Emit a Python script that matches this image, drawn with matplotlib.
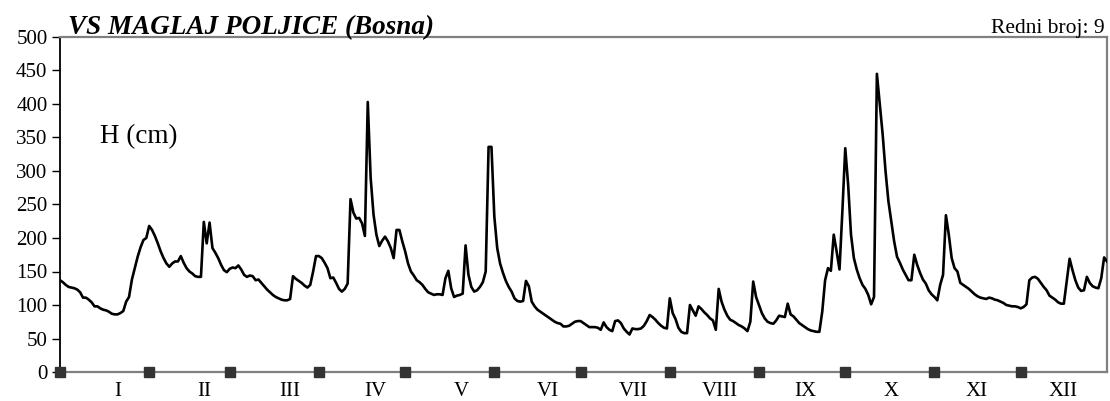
import numpy as np
import matplotlib
matplotlib.use("Agg")
import matplotlib.pyplot as plt
from matplotlib.transforms import blended_transform_factory

plt.rcParams['font.family'] = ['Liberation Serif', 'DejaVu Serif']

# ---- data: daily water level H (cm), one list per month ----
jan = [137, 134, 130, 127, 126, 125, 123, 119, 111, 111, 108, 104, 98, 98, 95, 93,
       92, 90, 87, 86, 86, 88, 91, 105, 112, 138, 155, 172, 186, 197, 200]
feb = [218, 212, 203, 192, 180, 170, 162, 157, 162, 165, 165, 173, 163, 155, 150,
       147, 143, 142, 142, 224, 192, 223, 185, 178, 170, 160, 152, 149]
mar = [154, 156, 155, 159, 153, 145, 142, 144, 143, 137, 138, 133, 128, 123, 119,
       115, 112, 110, 108, 107, 107, 109, 143, 139, 136, 133, 129, 126, 130, 150, 173]
apr = [173, 170, 163, 155, 140, 141, 133, 124, 120, 124, 132, 258, 238, 229, 230,
       222, 203, 403, 290, 235, 205, 188, 196, 202, 195, 185, 170, 212, 212, 195]
may = [180, 162, 150, 144, 137, 134, 130, 124, 119, 117, 115, 116, 116, 115, 140,
       151, 125, 112, 114, 115, 117, 189, 145, 127, 120, 122, 127, 134, 150, 336, 336]
jun = [232, 185, 162, 148, 136, 127, 120, 110, 106, 105, 106, 136, 128, 105, 98,
       93, 90, 87, 84, 81, 78, 75, 73, 72, 68, 68, 69, 72, 75, 76]
jul = [76, 73, 70, 67, 67, 67, 66, 63, 74, 67, 63, 61, 76, 77, 73, 65, 60, 56, 65,
       64, 64, 65, 69, 76, 85, 82, 78, 73, 69, 66, 65]
aug = [110, 88, 79, 66, 60, 58, 58, 100, 92, 84, 98, 94, 89, 85, 80, 77, 63, 124,
       105, 93, 84, 78, 76, 73, 70, 68, 65, 61, 75, 135, 112]
sep = [100, 88, 80, 75, 73, 72, 77, 84, 83, 82, 102, 86, 83, 78, 73, 70, 67, 64,
       62, 61, 60, 60, 90, 137, 155, 151, 205, 180, 153, 240]
oct_ = [334, 280, 205, 170, 153, 140, 130, 124, 115, 101, 112, 445, 400, 355, 300,
        255, 225, 195, 172, 163, 153, 145, 137, 137, 175, 160, 148, 138, 132, 122, 116]
nov = [112, 107, 130, 145, 234, 205, 170, 155, 150, 133, 130, 127, 124, 120, 116,
       113, 111, 110, 109, 111, 110, 108, 107, 105, 103, 100, 99, 98, 98, 97]
dec = [95, 97, 101, 137, 141, 142, 139, 133, 127, 122, 114, 111, 108, 104, 102, 102,
       135, 169, 152, 137, 126, 121, 122, 142, 133, 128, 126, 125, 140, 171, 165]

months = ["I", "II", "III", "IV", "V", "VI", "VII", "VIII", "IX", "X", "XI", "XII"]
title = "VS MAGLAJ POLJICE (Bosna)"
station_no = "Redni broj: 9"
ylabel = "H (cm)"

month_data = [jan, feb, mar, apr, may, jun, jul, aug, sep, oct_, nov, dec]
values = np.concatenate(month_data)
days = np.arange(len(values))
month_starts = np.cumsum([0] + [len(m) for m in month_data[:-1]])

# ---- figure ----
W, H = 1110, 401
fig = plt.figure(figsize=(W / 100, H / 100), dpi=100)
ax = fig.add_axes([60 / W, 1 - 372 / H, (1107 - 60) / W, (372 - 37) / H])

ax.plot(days, values, color='black', lw=1.9, solid_joinstyle='round', zorder=3)

ax.set_xlim(0, len(values) - 1)
ax.set_ylim(0, 500)
ax.set_yticks(np.arange(0, 501, 50))
ax.set_xticks([])
ax.tick_params(axis='y', direction='out', length=6, width=1, pad=3,
               labelsize=15, color='black')

for s in ['top', 'right', 'bottom']:
    ax.spines[s].set_color('#808080')
    ax.spines[s].set_linewidth(1.6)
ax.spines['left'].set_color('black')
ax.spines['left'].set_linewidth(1.3)

# month boundary markers on the x axis
ax.plot(month_starts, np.zeros_like(month_starts), ls='none', marker='s',
        ms=6.5, color='#333333', clip_on=False, zorder=5)

# month labels (uniformly spaced below the axis)
trans = blended_transform_factory(ax.transAxes, ax.transAxes)
x0 = (118 - 60) / (1107 - 60)
x1 = (1063 - 60) / (1107 - 60)
for lab, xf in zip(months, np.linspace(x0, x1, len(months))):
    ax.text(xf, -(396 - 372) / 335, lab, transform=trans, ha='center',
            va='baseline', fontsize=15)

# unit label inside the plot
ax.text((100 - 60) / (1107 - 60), (372 - 143) / 335, ylabel, transform=ax.transAxes,
        ha='left', va='baseline', fontsize=19.5)

# titles
fig.text(68 / W, 1 - 34 / H, title, ha='left', va='baseline', fontsize=19.5,
         fontweight='bold', fontstyle='italic')
fig.text(1105 / W, 1 - 33 / H, station_no, ha='right', va='baseline', fontsize=15.5)

fig.savefig('out.png', dpi=100)
